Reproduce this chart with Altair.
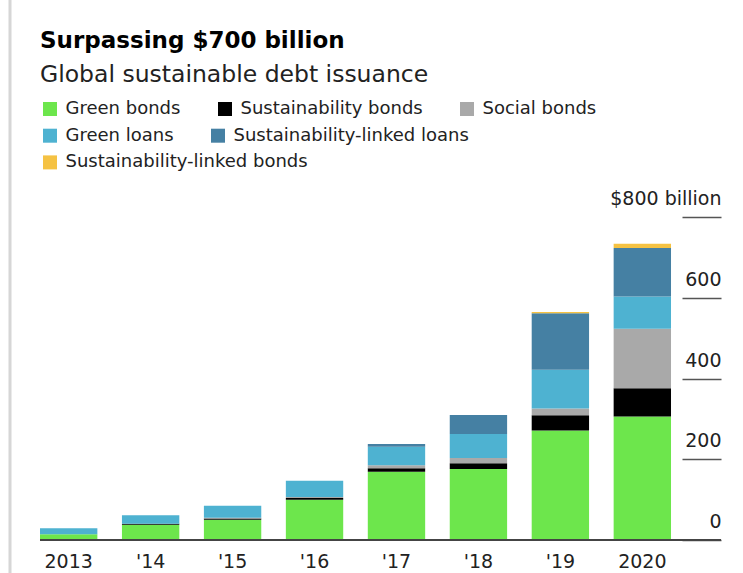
import altair as alt
import pandas as pd

years = ["2013", "'14", "'15", "'16", "'17", "'18", "'19", "2020"]
series = [
    "Green bonds",
    "Sustainability bonds",
    "Social bonds",
    "Green loans",
    "Sustainability-linked loans",
    "Sustainability-linked bonds",
]
colors = ["#6de64c", "#000000", "#a9a9a9", "#4eb2d1", "#4580a3", "#f5c243"]

# values in $ billions
green_bonds = [14, 38, 50, 100, 169, 176, 271, 306]
sust_bonds = [0, 2, 3, 4, 9, 14, 38, 70]
social_bonds = [0, 0, 2, 2.5, 7, 13, 16.5, 147]
green_loans = [15, 21, 30, 40, 46, 59.5, 96, 80]
sl_loans = [0, 0, 0, 0, 7, 47, 140, 120]
sl_bonds = [0, 0, 0, 0, 0, 0, 3, 11]
all_values = [green_bonds, sust_bonds, social_bonds, green_loans, sl_loans, sl_bonds]

y_ticks = [0, 200, 400, 600, 800]

# legend rows as in the original (3 / 2 / 1 entries)
legend_rows = [[0, 1, 2], [3, 4], [5]]

rows = []
for i, (name, vals) in enumerate(zip(series, all_values)):
    for yr, v in zip(years, vals):
        rows.append({"year": yr, "series": name, "value": v, "order": i})
df = pd.DataFrame(rows)

FONT = "DejaVu Sans"

x_enc = alt.X(
    "year:N",
    sort=years,
    title=None,
    scale=alt.Scale(paddingInner=0.30, paddingOuter=0.305, align=0),
    axis=alt.Axis(
        labelAngle=0, ticks=False, domain=False, labelPadding=12,
        labelFont=FONT, labelFontSize=19, labelColor="#222",
    ),
)
y_axis = alt.Axis(
    orient="right", offset=-39, values=y_ticks, domain=False, grid=False,
    tickSize=39, tickColor="#555", tickWidth=1.5,
    labelAlign="right", labelBaseline="alphabetic", labelPadding=0,
    labelOffset=-12.5, labelFont=FONT, labelFontSize=19, labelColor="#222",
    labelOverlap=False, labelFlush=False,
    labelExpr="datum.value == 800 ? '$800 billion' : datum.label",
)
y_scale = alt.Scale(domain=[0, 800], nice=False)

layers = []
for r, idx in enumerate(legend_rows):
    names = [series[i] for i in idx]
    cols = [colors[i] for i in idx]
    layer = (
        alt.Chart(df)
        .transform_stack(
            stack="value", groupby=["year"], as_=["y0", "y1"],
            sort=[alt.SortField("order", order="ascending")],
        )
        .transform_filter(alt.FieldOneOfPredicate(field="series", oneOf=names))
        .mark_bar()
        .encode(
            x=x_enc,
            y=alt.Y("y0:Q", title=None, scale=y_scale, axis=y_axis),
            y2="y1:Q",
            color=alt.Color(
                "series:N",
                scale=alt.Scale(domain=names, range=cols),
                legend=alt.Legend(
                    title=None, orient="none", legendX=1, legendY=-117 + 26.7 * r,
                    direction="horizontal",
                    symbolType="square", symbolSize=196, symbolStrokeWidth=0,
                    labelFont=FONT, labelFontSize=18, labelColor="#222",
                    labelOffset=6.5, columnPadding=35, padding=0, labelLimit=400,
                ),
            ),
        )
    )
    layers.append(layer)

base = alt.Chart(pd.DataFrame({"v": [0]})).mark_rule(color="#444", strokeWidth=2).encode(
    y=alt.Y("v:Q", scale=y_scale, axis=y_axis, title=None)
)

border = alt.Chart(pd.DataFrame({"v": [0]})).mark_rule(color="#d6d6d6", strokeWidth=3).encode(
    x=alt.value(-30), y=alt.value(-217), y2=alt.value(356)
)

chart = (
    alt.layer(*layers, base, border)
    .resolve_scale(color="independent")
    .properties(
        width=681,
        height=323,
        autosize="none",
        background="white",
        padding={"left": 40, "top": 217, "right": 22, "bottom": 33},
        title=alt.TitleParams(
            text="Surpassing $700 billion",
            subtitle="Global sustainable debt issuance",
            anchor="start", frame="group",
            font=FONT, fontSize=23, fontWeight="bold", color="#000",
            subtitleFont=FONT, subtitleFontSize=23.5, subtitleColor="#222",
            subtitlePadding=10, offset=0, dy=88,
        ),
    )
    .configure_view(stroke=None)
)

chart.save("out.html", embed_options={"renderer": "svg", "actions": False})
